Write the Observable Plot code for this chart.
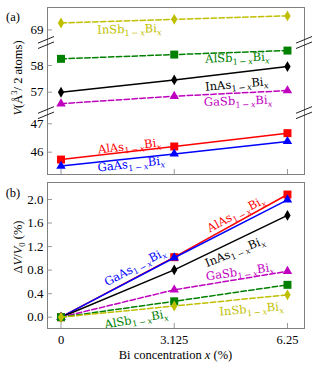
<!DOCTYPE html>
<html><head><meta charset="utf-8">
<script src="https://cdn.jsdelivr.net/npm/d3@7"></script>
<script src="https://cdn.jsdelivr.net/npm/@observablehq/plot@0.6"></script>
<style>
body{margin:0;background:#fff;}
#chart svg{display:block;}
</style></head><body><div id="chart"></div>
<script>
// ---------- data ----------
const xValues = [0, 3.125, 6.25];
const xTickLabels = ["0", "3.125", "6.25"];
const seriesNames = ["AlAs", "GaAs", "InAs", "GaSb", "AlSb", "InSb"];

// (a) volume per 2 atoms (Å^3)
const volAlAs = [45.74, 46.20, 46.67];
const volGaAs = [45.51, 45.94, 46.38];
const volInAs = [57.00, 57.46, 57.96];
const volGaSb = [56.57, 56.85, 57.06];
const volAlSb = [58.25, 58.41, 58.56];
const volInSb = [69.26, 69.40, 69.53];

// (b) ΔV/V0 (%)
const dvAlAs = [0, 1.02, 2.085];
const dvGaAs = [0, 1.01, 1.995];
const dvInAs = [0, 0.805, 1.73];
const dvGaSb = [0, 0.465, 0.78];
const dvAlSb = [0, 0.27, 0.55];
const dvInSb = [0, 0.19, 0.38];

const yTicksA = [46, 47, 57, 58, 69];
const yTicksB = [0, 0.4, 0.8, 1.2, 1.6, 2.0];

// broken-axis segments of panel (a): [low, high] for each piece
const segBottom = [45.2, 47.2];
const segMiddle = [56.4, 58.6];
const segTop = [68.75, 69.82];

// series label anchors (data coords) and angles
const labelNamesA = ["InSb", "AlSb", "InAs", "GaSb", "AlAs", "GaAs"];
const labelXA = [1.9, 4.88, 4.86, 4.90, 1.9, 1.95];
const labelYA = [69.02, 58.28, 57.29, 56.66, 46.20, 45.57];
const labelAngA = [-1.5, -2, -5, -2, -6.5, -6];

const labelNamesB = ["AlAs", "GaAs", "InAs", "GaSb", "InSb", "AlSb"];
const labelXB = [4.84, 2.05, 4.81, 4.95, 5.27, 2.09];
const labelYB = [1.745, 0.845, 1.105, 0.765, 0.134, -0.04];
const labelAngB = [-28, -28, -22, -8, -5, -10];

// ---------- styles ----------
const seriesStyle = {
  AlAs: {color: "#ff0000", symbol: "square", r: 4.5, dash: null, a: "AlAs"},
  GaAs: {color: "#0000ff", symbol: "triangle", r: 3.5, dash: null, a: "GaAs"},
  InAs: {color: "#000000", symbol: "diamond", r: 3.3, dash: null, a: "InAs"},
  GaSb: {color: "#bf00bf", symbol: "triangle", r: 3.5, dash: "5.5,2.4", a: "GaSb"},
  AlSb: {color: "#008000", symbol: "square", r: 4.5, dash: "5.5,2.4", a: "AlSb"},
  InSb: {color: "#bfbf00", symbol: "diamond", r: 3.3, dash: "5.5,2.4", a: "InSb"}
};
const volData = {AlAs: volAlAs, GaAs: volGaAs, InAs: volInAs, GaSb: volGaSb, AlSb: volAlSb, InSb: volInSb};
const dvData = {AlAs: dvAlAs, GaAs: dvGaAs, InAs: dvInAs, GaSb: dvGaSb, AlSb: dvAlSb, InSb: dvInSb};

const W = 317;
const mL = 47, mR = 13;
const frameW = W - mL - mR;
const serif = "Liberation Serif";
const tickColor = "#999";
const frameColor = "#808080";

function rows(table, name) {
  return xValues.map((x, i) => ({x, y: table[name][i], name}));
}

function seriesMarks(table) {
  const m = [];
  for (const s of seriesNames) {
    const st = seriesStyle[s];
    const d = rows(table, s);
    m.push(Plot.line(d, {x: "x", y: "y", stroke: st.color, strokeWidth: 1.5, strokeDasharray: st.dash}));
    m.push(Plot.dot(d, {x: "x", y: "y", symbol: () => st.symbol, fill: st.color, stroke: "none", r: st.r}));
  }
  return m;
}

function labelMark(names, xs, ys, angs) {
  return (index, scales) => {
    const g = d3.create("svg:g").attr("font-family", "DejaVu Serif").attr("font-size", 11.5);
    names.forEach((n, i) => {
      const st = seriesStyle[n];
      const px = scales.x(xs[i]), py = scales.y(ys[i]);
      const t = g.append("text").attr("text-anchor", "middle").attr("fill", st.color)
        .attr("transform", `translate(${px},${py}) rotate(${angs[i]})`).attr("y", 4);
      t.append("tspan").text(st.a);
      t.append("tspan").attr("dy", 3).attr("font-size", 8.3).text("1\u2009\u2212\u2009");
      t.append("tspan").attr("font-size", 8.3).attr("font-style", "italic").text("x");
      t.append("tspan").attr("dy", -3).text("Bi");
      t.append("tspan").attr("dy", 3).attr("font-size", 8.3).attr("font-style", "italic").text("x");
    });
    return g.node();
  };
}

function textMark(build) {
  return (index, scales, values, dims) => {
    const t = d3.create("svg:text").attr("font-family", serif).attr("font-size", 12.5).attr("fill", "black");
    build(t, dims);
    return t.node();
  };
}

// ---------- panel (a) ----------
const HA = 178, mTA = 7, mBA = 4;
const frameHA = HA - mTA - mBA;
// pixel positions of each piece of the broken axis
const yDomainA = [segBottom[0], segBottom[1], segMiddle[0], segMiddle[1], segTop[0], segTop[1]];
const yRangeA = [174.4, 117.6, 107.7, 49.0, 36.05, 7.7];
const breaksA = [(segBottom[1] + segMiddle[0]) / 2, (segMiddle[1] + segTop[0]) / 2];

function breakMarks(breaks) {
  return (index, scales, values, dims) => {
    const g = d3.create("svg:g").attr("stroke", "#222").attr("stroke-width", 1).attr("fill", "none");
    for (const b of breaks) {
      const yy = scales.y(b);
      for (const xx of [dims.marginLeft - 1, dims.width - dims.marginRight]) {
        for (const off of [-2.7, 2.7]) {
          g.append("line").attr("x1", xx - 8).attr("y1", yy + off + 3.3)
            .attr("x2", xx + 8).attr("y2", yy + off - 3.3);
        }
      }
    }
    return g.node();
  };
}

const plotA = Plot.plot({
  width: W, height: HA,
  marginLeft: mL, marginRight: mR, marginTop: mTA, marginBottom: mBA,
  style: {fontFamily: serif, fontSize: "13px", background: "white"},
  x: {domain: [-0.373, 6.72], axis: null},
  y: {type: "linear", domain: yDomainA, range: yRangeA},
  marks: [
    Plot.tickX(xValues, {x: d => d, stroke: tickColor, insetTop: frameHA - 5}),
    Plot.tickY(yTicksA, {y: d => d, stroke: tickColor, insetRight: frameW - 5}),
    Plot.axisY({ticks: yTicksA, tickSize: 0, tickPadding: 4, fontSize: 13, tickFormat: d => String(d), label: null}),
    ...seriesMarks(volData),
    labelMark(labelNamesA, labelXA, labelYA, labelAngA),
    Plot.frame({stroke: frameColor}),
    breakMarks(breaksA),
    textMark((t) => {
      t.attr("transform", "translate(21.5,78) rotate(-90)").attr("text-anchor", "middle");
      t.append("tspan").attr("font-style", "italic").text("V");
      t.append("tspan").text("(\u00C5");
      t.append("tspan").attr("dy", -5).attr("font-size", 8.5).text("3");
      t.append("tspan").attr("dy", 5).text("/ 2 atoms)");
    }),
    textMark((t) => { t.attr("x", 13).attr("y", 21).attr("text-anchor", "middle").text("(a)"); })
  ]
});

// ---------- panel (b) ----------
const HB = 195, mTB = 4, mBB = 45;
const frameHB = HB - mTB - mBB;
const plotB = Plot.plot({
  width: W, height: HB,
  marginLeft: mL, marginRight: mR, marginTop: mTB, marginBottom: mBB,
  style: {fontFamily: serif, fontSize: "12px", background: "white"},
  x: {domain: [-0.373, 6.72]},
  y: {domain: [-0.192, 2.289]},
  marks: [
    Plot.tickX(xValues, {x: d => d, stroke: tickColor, insetTop: frameHB - 5}),
    Plot.tickY(yTicksB, {y: d => d, stroke: tickColor, insetRight: frameW - 5}),
    Plot.axisY({ticks: yTicksB, tickSize: 0, tickPadding: 4, fontSize: 13, tickFormat: d3.format(".1f"), label: null}),
    Plot.axisX({ticks: xValues, tickSize: 0, tickPadding: 7, fontSize: 12.5, tickFormat: d => xTickLabels[xValues.indexOf(d)], label: null}),
    ...seriesMarks(dvData),
    labelMark(labelNamesB, labelXB, labelYB, labelAngB),
    Plot.frame({stroke: frameColor}),
    textMark((t) => {
      t.attr("transform", "translate(21.5,69) rotate(-90)").attr("text-anchor", "middle");
      t.append("tspan").text("\u0394");
      t.append("tspan").attr("font-style", "italic").text("V");
      t.append("tspan").text("/");
      t.append("tspan").attr("font-style", "italic").text("V");
      t.append("tspan").attr("dy", 3).attr("font-size", 8.5).text("0");
      t.append("tspan").attr("dy", -3).text(" (%)");
    }),
    textMark((t, dims) => {
      t.attr("x", dims.marginLeft + (dims.width - dims.marginLeft - dims.marginRight) / 2).attr("y", 181).attr("text-anchor", "middle");
      t.append("tspan").text("Bi concentration ");
      t.append("tspan").attr("font-style", "italic").text("x");
      t.append("tspan").text(" (%)");
    }),
    textMark((t) => { t.attr("x", 13).attr("y", 19).attr("text-anchor", "middle").text("(b)"); })
  ]
});

const chart = document.getElementById("chart");
chart.appendChild(plotA);
chart.appendChild(plotB);
</script>
</body></html>
